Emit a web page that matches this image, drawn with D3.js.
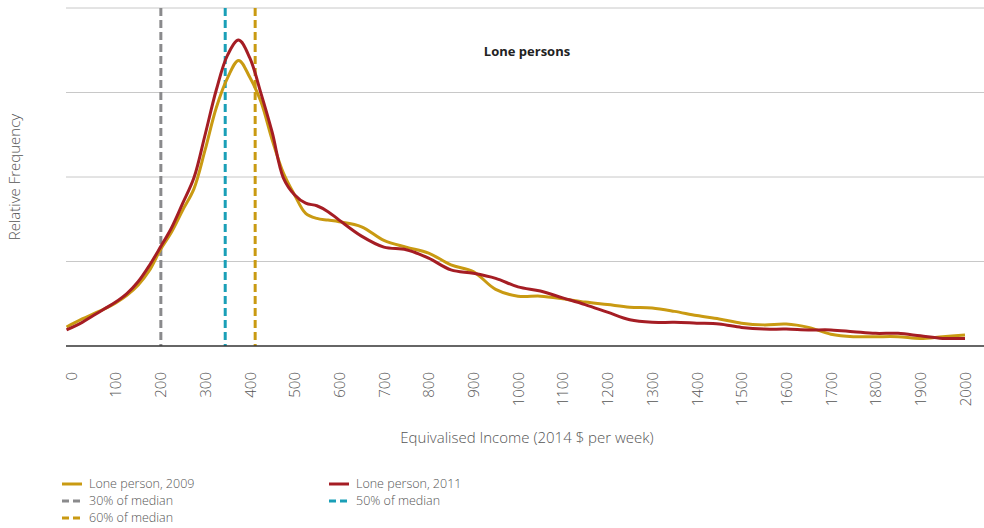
<!DOCTYPE html>
<html>
<head>
<meta charset="utf-8">
<script src="https://cdn.jsdelivr.net/npm/d3@7"></script>
<style>
  body { margin: 0; background: #fff; }
  svg text { font-family: "Open Sans", "Noto Sans", sans-serif; }
</style>
</head>
<body>
<svg id="chart" width="984" height="528"></svg>
<script>
// income grid ($ per week) and relative frequency (gridline = 1 unit)
var income = [-10, 25, 50, 75, 100, 125, 150, 175, 200, 225, 250, 275, 300, 325, 350, 375, 400, 425, 450, 475,
  500, 525, 550, 575, 600, 650, 700, 750, 800, 850, 900, 950, 1000, 1050, 1100, 1150, 1200, 1250, 1300, 1350,
  1400, 1450, 1500, 1550, 1600, 1650, 1700, 1750, 1800, 1850, 1900, 1950, 2000];

var lone2009 = [0.225, 0.32, 0.38, 0.44, 0.51, 0.60, 0.72, 0.89, 1.14, 1.35, 1.61, 1.86, 2.32, 2.82, 3.17, 3.38, 3.18, 2.89, 2.44, 2.05,
  1.79, 1.57, 1.51, 1.49, 1.47, 1.41, 1.25, 1.17, 1.10, 0.96, 0.88, 0.67, 0.59, 0.59, 0.56, 0.52, 0.49, 0.46, 0.45, 0.41,
  0.36, 0.32, 0.27, 0.25, 0.26, 0.22, 0.14, 0.11, 0.11, 0.11, 0.09, 0.11, 0.13];

var lone2011 = [0.19, 0.28, 0.36, 0.44, 0.52, 0.62, 0.76, 0.95, 1.17, 1.40, 1.69, 1.99, 2.50, 3.03, 3.44, 3.62, 3.41, 2.99, 2.53, 1.99,
  1.79, 1.69, 1.66, 1.59, 1.49, 1.30, 1.17, 1.14, 1.04, 0.90, 0.86, 0.80, 0.70, 0.65, 0.57, 0.49, 0.40, 0.31, 0.28, 0.28,
  0.27, 0.26, 0.22, 0.20, 0.20, 0.19, 0.19, 0.17, 0.15, 0.15, 0.12, 0.09, 0.09];

var medianLines = [
  {label: "30% of median", value: 201, color: "#8a8a8c"},
  {label: "50% of median", value: 345, color: "#1a9fb7"},
  {label: "60% of median", value: 412, color: "#c99a12"}
];

var xTicks = d3.range(0, 2001, 100);
var gridVals = [1, 2, 3, 4];

var gold = "#c99a12", red = "#a51d24";

var svg = d3.select("#chart");

var x = d3.scaleLinear().domain([0, 2000]).range([71, 965]);
var y = d3.scaleLinear().domain([0, 4]).range([346, 8]);

// gridlines
svg.append("g").selectAll("line")
  .data(gridVals)
  .enter().append("line")
  .attr("x1", 66).attr("x2", 984)
  .attr("y1", function(d) { return y(d); })
  .attr("y2", function(d) { return y(d); })
  .attr("stroke", "#c8c8c8")
  .attr("stroke-width", 1);

// x axis labels
var xAxis = d3.axisBottom(x).tickValues(xTicks).tickSize(0).tickFormat(d3.format("d"));
var ax = svg.append("g").attr("transform", "translate(0,346)").call(xAxis);
ax.select(".domain").remove();
ax.selectAll("text")
  .attr("transform", "rotate(-90)")
  .attr("x", -26).attr("y", 0).attr("dy", "0.35em")
  .attr("text-anchor", "end")
  .attr("fill", "#555")
  .style("font-size", "15px")
  .style("font-weight", 300);

// median lines
svg.append("g").selectAll("line")
  .data(medianLines)
  .enter().append("line")
  .attr("x1", function(d) { return x(d.value); })
  .attr("x2", function(d) { return x(d.value); })
  .attr("y1", 8).attr("y2", 346)
  .attr("stroke", function(d) { return d.color; })
  .attr("stroke-width", 3)
  .attr("stroke-dasharray", "8,4");

var line = d3.line()
  .x(function(d) { return x(d[0]); })
  .y(function(d) { return y(d[1]); })
  .curve(d3.curveCatmullRom);

svg.append("path")
  .datum(d3.zip(income, lone2009))
  .attr("d", line)
  .attr("fill", "none")
  .attr("stroke", gold)
  .attr("stroke-width", 3);

svg.append("path")
  .datum(d3.zip(income, lone2011))
  .attr("d", line)
  .attr("fill", "none")
  .attr("stroke", red)
  .attr("stroke-width", 3);

// baseline
svg.append("line")
  .attr("x1", 66).attr("x2", 984)
  .attr("y1", 346).attr("y2", 346)
  .attr("stroke", "#333")
  .attr("stroke-width", 1.5);

// title
svg.append("text")
  .attr("x", 527).attr("y", 56)
  .attr("text-anchor", "middle")
  .attr("fill", "#222")
  .style("font-size", "13px")
  .style("font-weight", "bold")
  .text("Lone persons");

// axis titles
svg.append("text")
  .attr("transform", "translate(20,177) rotate(-90)")
  .attr("text-anchor", "middle")
  .attr("fill", "#555")
  .style("font-size", "15px")
  .style("font-weight", 300)
  .text("Relative Frequency");

svg.append("text")
  .attr("x", 527).attr("y", 443)
  .attr("text-anchor", "middle")
  .attr("fill", "#555")
  .style("font-size", "15px")
  .style("font-weight", 300)
  .text("Equivalised Income (2014 $ per week)");

// legend
var legendItems = [
  {label: "Lone person, 2009", color: gold, dash: null, col: 0, row: 0},
  {label: "Lone person, 2011", color: red, dash: null, col: 1, row: 0},
  {label: "30% of median", color: medianLines[0].color, dash: "7,4", col: 0, row: 1},
  {label: "50% of median", color: medianLines[1].color, dash: "7,4", col: 1, row: 1},
  {label: "60% of median", color: medianLines[2].color, dash: "7,4", col: 0, row: 2}
];

var lg = svg.append("g").selectAll("g")
  .data(legendItems)
  .enter().append("g")
  .attr("transform", function(d) { return "translate(" + (62 + d.col * 267) + "," + (484 + d.row * 17) + ")"; });

lg.append("line")
  .attr("x1", 0).attr("x2", 20)
  .attr("stroke", function(d) { return d.color; })
  .attr("stroke-width", 3)
  .attr("stroke-dasharray", function(d) { return d.dash; });

lg.append("text")
  .attr("x", 27).attr("dy", "0.35em")
  .attr("fill", "#555")
  .style("font-size", "12.5px")
  .style("font-weight", 300)
  .text(function(d) { return d.label; });
</script>
</body>
</html>
